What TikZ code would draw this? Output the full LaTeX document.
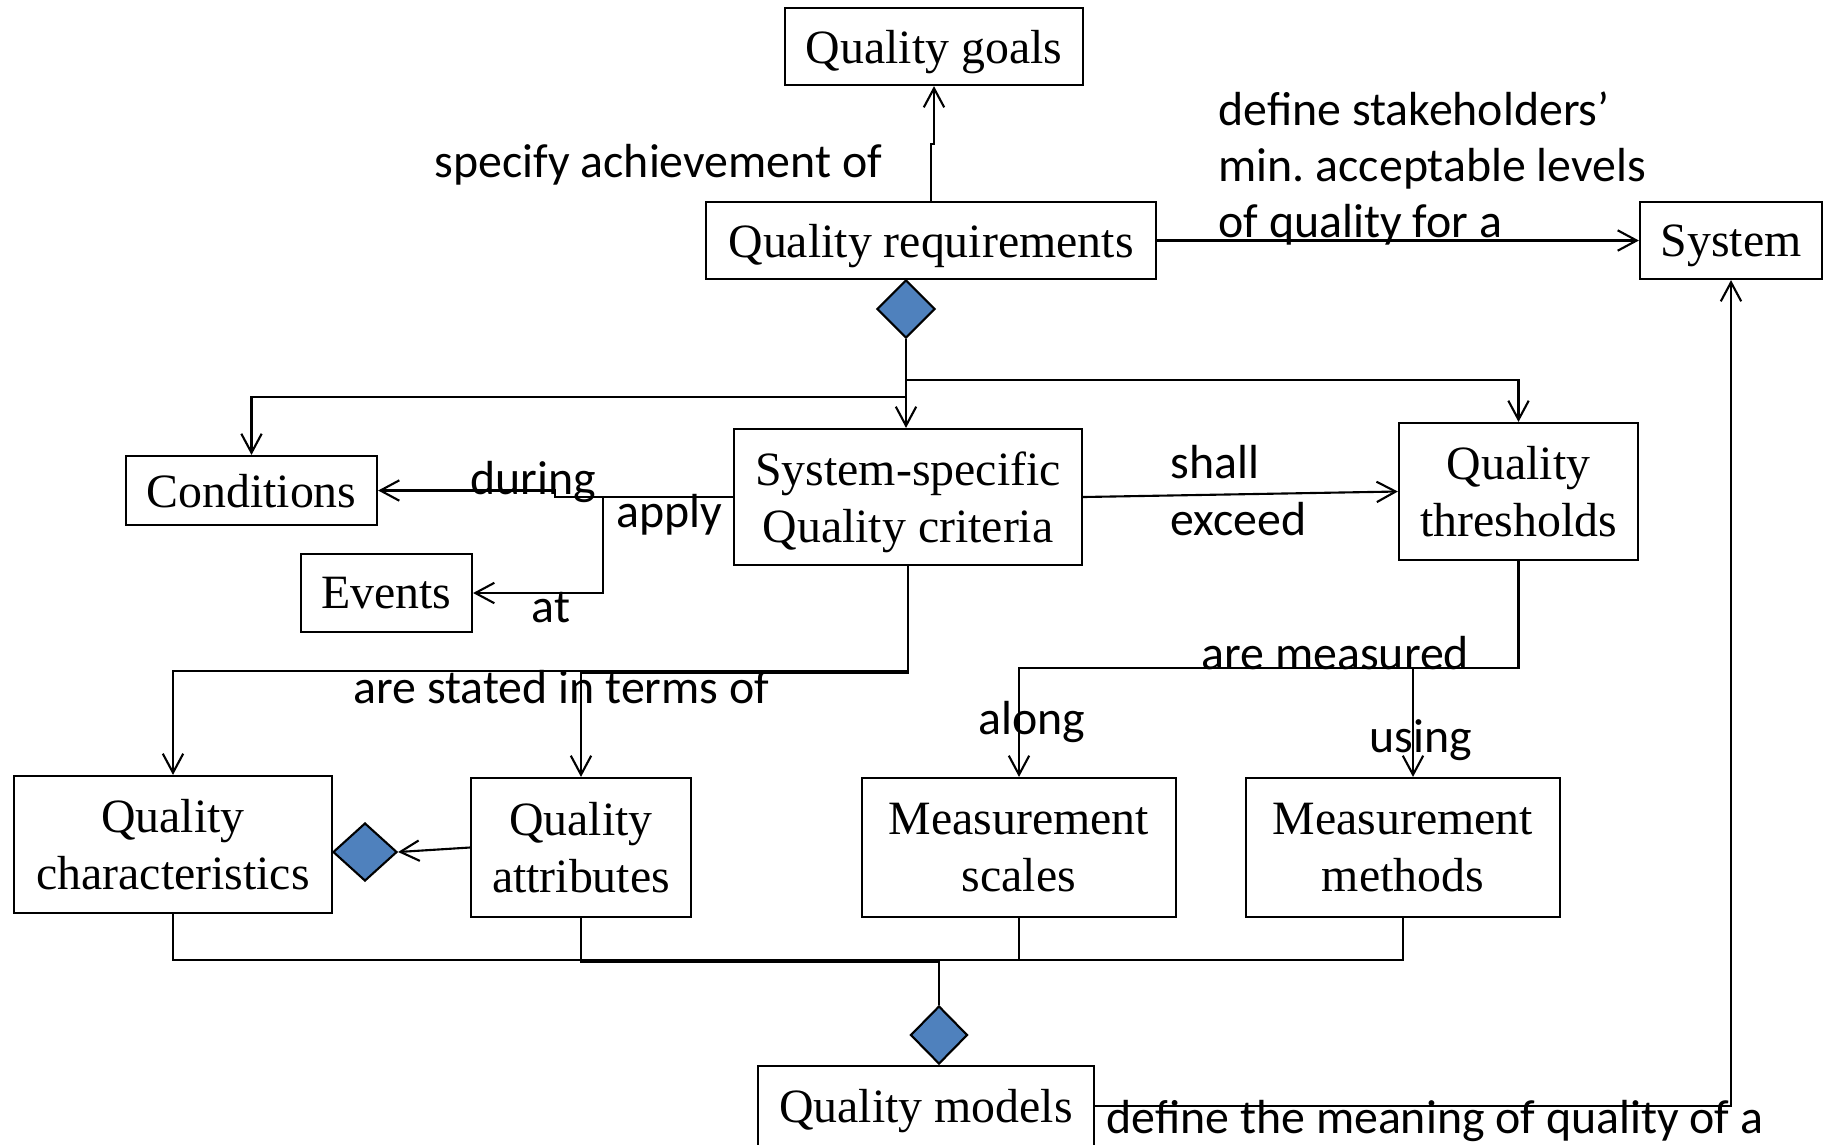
\documentclass[tikz,border=0pt]{standalone}
\usepackage{fontspec}
\setmainfont{Liberation Serif}
\newfontfamily\lblfont{Carlito}
\usetikzlibrary{arrows.meta,shapes.geometric}
\definecolor{dblue}{RGB}{79,129,189}
\tikzset{
  box/.style={draw, line width=0.6pt, inner sep=0pt, align=center, text depth=-0.8pt,
    font=\fontsize{13.6pt}{16.2pt}\selectfont},
  lbl/.style={inner sep=0pt, anchor=base west,
    font=\lblfont\fontsize{13.6pt}{16pt}\selectfont},
  arr/.style={-{Straight Barb[length=5.4pt,width=5.8pt]}},
  conn/.style={line width=0.6pt},
  diam/.style={diamond, draw, fill=dblue, line width=0.6pt, inner sep=0pt},
}
\begin{document}
\frenchspacing
\begin{tikzpicture}[x=0.01cm, y=-0.01cm]
\useasboundingbox (0,0) rectangle (1824,1144);
\clip (0,0) rectangle (1824,1144);

% concept boxes
\node[box, minimum width=2.98cm, minimum height=0.77cm] (QG) at (934,46.5) {Quality goals};
\node[box, minimum width=4.50cm, minimum height=0.77cm] (QR) at (931,240.5) {Quality requirements};
\node[box, minimum width=1.82cm, minimum height=0.77cm] (Sys) at (1731,240.5) {System};
\node[box, minimum width=2.51cm, minimum height=0.69cm] (Cond) at (251.5,490.5) {Conditions};
\node[box, minimum width=1.71cm, minimum height=0.78cm] (Ev) at (386.5,593) {Events};
\node[box, minimum width=3.48cm, minimum height=1.36cm] (SSQC) at (908,497) {System-specific\\Quality criteria};
\node[box, minimum width=2.39cm, minimum height=1.37cm] (QT) at (1518.5,491.5) {Quality\\thresholds};
\node[box, minimum width=3.18cm, minimum height=1.37cm] (QC) at (173,844.5) {Quality\\characteristics};
\node[box, minimum width=2.20cm, minimum height=1.39cm] (QA) at (581,847.5) {Quality\\attributes};
\node[box, minimum width=3.14cm, minimum height=1.39cm] (MS) at (1019,847.5) {Measurement\\scales};
\node[box, minimum width=3.14cm, minimum height=1.39cm] (MM) at (1403,847.5) {Measurement\\methods};
\node[box, minimum width=3.36cm, minimum height=0.80cm] (QM) at (926,1106) {Quality models};

% aggregation diamonds
\node[diam, minimum width=0.58cm, minimum height=0.58cm] (D1) at (906,309) {};
\node[diam, minimum width=0.64cm, minimum height=0.58cm] (D2) at (365,852) {};
\node[diam, minimum width=0.57cm, minimum height=0.58cm] (D3) at (939,1035) {};

% junction points
\coordinate (jR) at (906,380);
\coordinate (jL) at (906,397);
\coordinate (jD) at (555,497);
\coordinate (jE) at (603,497);
\coordinate (jS) at (908,671);
\coordinate (jS2) at (908,672.5);
\coordinate (jT) at (1518.5,668);
\coordinate (jM) at (1413,668);
\coordinate (jB) at (939,960);
\coordinate (jB2) at (939,962);

% connectors
\draw[conn,arr] (QR.north) -- ++(0,-57) -| (QG.south);
\draw[conn,arr] (QR.east) -- (Sys.west);
\draw[conn,arr] (D1.south) -- (D1.south |- SSQC.north);
\draw[conn,arr] (jR) -| (QT.north);
\draw[conn,arr] (jL) -| (Cond.north);
\draw[conn,arr] (SSQC.west) -- (jD) |- (Cond.east);
\draw[conn,arr] (jE) |- (Ev.east);
\draw[conn,arr] (SSQC.east) -- (QT.west);
\draw[conn,arr] (SSQC.south) -- (jS) -| (QC.north);
\draw[conn,arr] (SSQC.south) -- (jS2) -| (QA.north);
\draw[conn,arr] (QT.south) -- (jT) -| (MS.north);
\draw[conn,arr] (jM) -- (jM |- MM.north);
\draw[conn,arr] (QA.west) -- (D2.east);
\draw[conn] (QC.south) |- (jB);
\draw[conn] (QA.south) |- (jB2);
\draw[conn] (MS.south) |- (jB);
\draw[conn] (MM.south) |- (jB);
\draw[conn] (jB) -- (D3.north);
\draw[conn,arr] (QM.east) -| (Sys.south);

% connector labels
\node[lbl] (l1) at (434,177) {specify achievement of};
\node[lbl] (l2a) at (1218,125) {define stakeholders’};
\node[lbl] (l2b) at (1218,181) {min. acceptable levels};
\node[lbl] (l2c) at (1218,237) {of quality for a};
\node[lbl] (l3) at (470,494) {during};
\node[lbl] (l4) at (616,527) {apply};
\node[lbl] (l5) at (531,622) {at};
\node[lbl] (l6a) at (1170,478) {shall};
\node[lbl] (l6b) at (1170,535) {exceed};
\node[lbl] (l7) at (353,703) {are stated in terms of};
\node[lbl] (l8) at (1201,669) {are measured};
\node[lbl] (l9) at (978,734) {along};
\node[lbl] (l10) at (1369,752) {using};
\node[lbl] (l11) at (1106,1133) {define the meaning of quality of a};
\end{tikzpicture}
\end{document}
